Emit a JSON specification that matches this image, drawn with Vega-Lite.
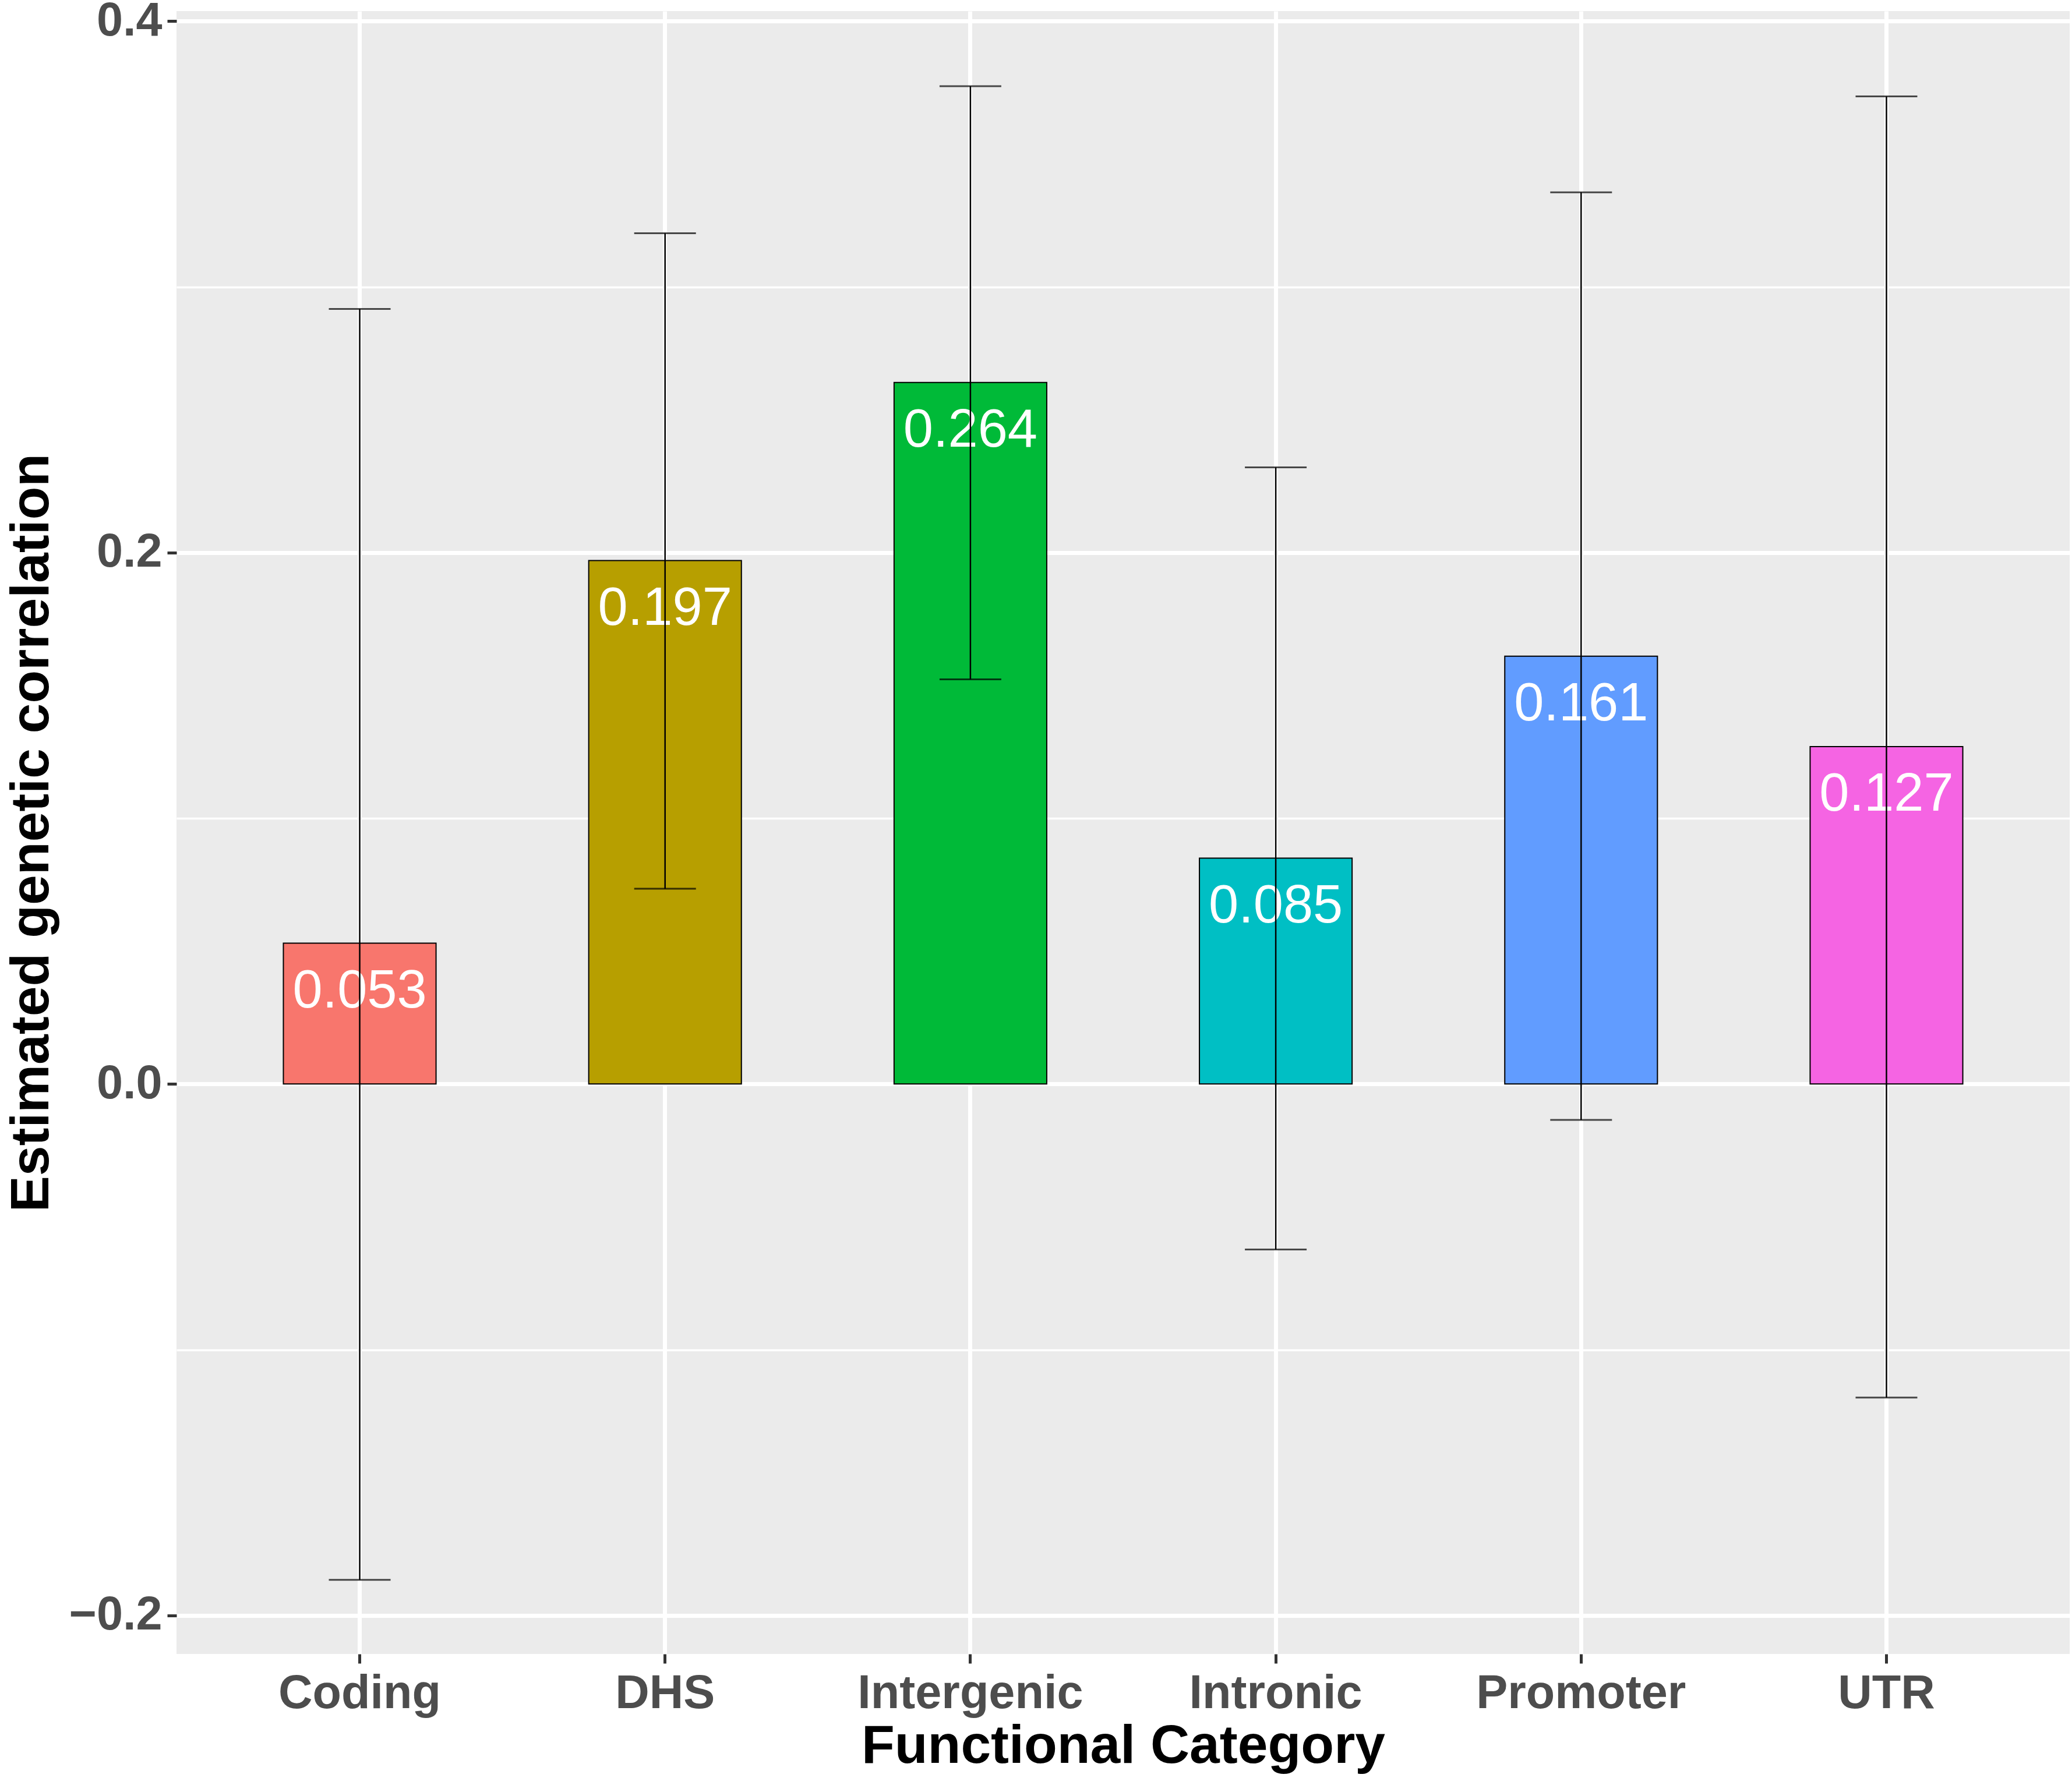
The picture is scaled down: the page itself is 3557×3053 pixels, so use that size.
{
  "$schema": "https://vega.github.io/schema/vega-lite/v6.json",
  "autosize": "none",
  "width": 3250,
  "height": 2821,
  "padding": {"left": 303, "top": 19, "right": 4, "bottom": 213},
  "background": "white",
  "data": {
    "values": [
      {"category": "Coding", "rg": 0.053, "lo": -0.1866, "hi": 0.2917},
      {"category": "DHS", "rg": 0.197, "lo": 0.0735, "hi": 0.3202},
      {"category": "Intergenic", "rg": 0.264, "lo": 0.1523, "hi": 0.3755},
      {"category": "Intronic", "rg": 0.085, "lo": -0.0623, "hi": 0.2321},
      {"category": "Promoter", "rg": 0.161, "lo": -0.0135, "hi": 0.3356},
      {"category": "UTR", "rg": 0.127, "lo": -0.118, "hi": 0.3717}
    ]
  },
  "encoding": {
    "x": {
      "field": "category",
      "type": "nominal",
      "title": "Functional Category",
      "scale": {"paddingInner": 0.5, "paddingOuter": 0.35},
      "axis": {
        "labelAngle": 0,
        "bandPosition": 0.5,
        "labelPadding": 12,
        "titlePadding": 5
      }
    }
  },
  "layer": [
    {
      "mark": {"type": "bar", "stroke": "black", "strokeWidth": 2},
      "encoding": {
        "y": {
          "field": "rg",
          "type": "quantitative",
          "title": "Estimated genetic correlation",
          "scale": {"domain": [-0.2145, 0.4038], "nice": false, "zero": false},
          "axis": {
            "values": [-0.2, -0.1, 0, 0.1, 0.2, 0.3, 0.4],
            "format": ".1f",
            "labelExpr": "abs(round(datum.value * 10)) % 2 == 1 ? '' : datum.label",
            "tickOpacity": {"condition": {"test": "abs(round(datum.value * 10)) % 2 == 1", "value": 0}, "value": 1},
            "gridWidth": {"condition": {"test": "abs(round(datum.value * 10)) % 2 == 1", "value": 3.5}, "value": 7},
            "labelPadding": 9,
            "titlePadding": 16
          }
        },
        "color": {
          "field": "category",
          "type": "nominal",
          "legend": null,
          "scale": {
            "domain": ["Coding", "DHS", "Intergenic", "Intronic", "Promoter", "UTR"],
            "range": ["#F8766D", "#B79F00", "#00BA38", "#00BFC4", "#619CFF", "#F564E3"]
          }
        }
      }
    },
    {
      "mark": {"type": "text", "color": "white", "fontSize": 92, "font": "Liberation Sans", "baseline": "alphabetic", "dy": 110},
      "encoding": {
        "y": {"field": "rg", "type": "quantitative"},
        "text": {"field": "rg", "type": "quantitative", "format": ".3f"}
      }
    },
    {
      "mark": {"type": "rule", "color": "black", "strokeWidth": 2.5},
      "encoding": {
        "y": {"field": "lo", "type": "quantitative"},
        "y2": {"field": "hi"}
      }
    },
    {
      "mark": {"type": "tick", "color": "black", "size": 106, "thickness": 3},
      "encoding": {
        "y": {"field": "lo", "type": "quantitative"}
      }
    },
    {
      "mark": {"type": "tick", "color": "black", "size": 106, "thickness": 3},
      "encoding": {
        "y": {"field": "hi", "type": "quantitative"}
      }
    }
  ],
  "config": {
    "font": "Liberation Sans",
    "view": {"fill": "#EBEBEB", "stroke": null},
    "axis": {
      "domain": false,
      "grid": true,
      "gridColor": "white",
      "gridWidth": 7,
      "tickColor": "#333333",
      "tickWidth": 5,
      "tickSize": 16,
      "labelLimit": 0,
      "labelFont": "Liberation Sans",
      "labelFontSize": 81,
      "labelFontWeight": "bold",
      "labelColor": "#4D4D4D",
      "titleFont": "Liberation Sans",
      "titleFontSize": 93,
      "titleFontWeight": "bold",
      "titleColor": "black"
    }
  }
}
